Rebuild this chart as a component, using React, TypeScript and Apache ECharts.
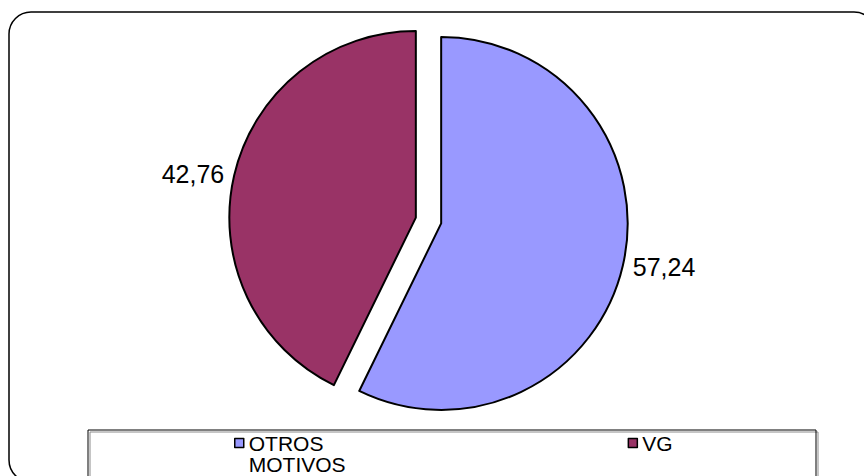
import React, { useEffect, useRef } from "react";
import * as echarts from "echarts";

const categories = ["OTROS MOTIVOS", "VG"];
const values = [57.24, 42.76];
const colors = ["#9999FF", "#993366"];

export default function App() {
  const ref = useRef<HTMLDivElement>(null);
  useEffect(() => {
    const chart = echarts.init(ref.current!, null, { renderer: "svg" });
    const L = 21;
    const iconH = 9;
    const iconTop = 438.5;
    chart.setOption({
      animation: false,
      backgroundColor: "#ffffff",
      textStyle: { fontFamily: "Liberation Sans, Arial, sans-serif" },
      graphic: [
        {
          type: "rect",
          shape: { x: 9, y: 12, width: 867, height: 470, r: 22 },
          style: { fill: "none", stroke: "#000", lineWidth: 1.5 },
          z: -1,
        },
        {
          type: "rect",
          shape: { x: 88, y: 430, width: 728, height: 70 },
          style: {
            fill: "none",
            stroke: "#000",
            lineWidth: 1,
            shadowColor: "rgba(0,0,0,0.45)",
            shadowOffsetX: 2,
            shadowOffsetY: 2,
            shadowBlur: 0,
          },
          z: -1,
        },
      ],
      legend: {
        left: 234,
        top: iconTop - (1.5 * L - iconH / 2),
        orient: "horizontal",
        itemGap: 282,
        itemWidth: iconH,
        itemHeight: iconH,
        icon: "rect",
        padding: 0,
        selectedMode: false,
        itemStyle: { borderColor: "#000", borderWidth: 1.5 },
        textStyle: { fontSize: 21, color: "#000", lineHeight: L },
        formatter: (n: string) =>
          n.indexOf(" ") >= 0 ? "\n" + n.replace(" ", "\n") : n,
        data: categories,
      },
      series: [
        {
          type: "pie",
          center: [428.5, 220.5],
          radius: 186.5,
          startAngle: 90,
          clockwise: true,
          selectedMode: "multiple",
          selectedOffset: 13,
          avoidLabelOverlap: false,
          data: categories.map((n, i) => ({
            name: n,
            value: values[i],
            selected: true,
            itemStyle: { color: colors[i] },
          })),
          itemStyle: { borderColor: "#000", borderWidth: 2 },
          label: {
            show: true,
            position: "outside",
            fontSize: 25,
            color: "#000",
            distanceToLabelLine: 5,
            formatter: (p: any) => p.value.toFixed(2).replace(".", ","),
          },
          labelLine: { show: false, length: 5, length2: 0 },
          emphasis: { disabled: true },
          select: { itemStyle: { borderColor: "#000", borderWidth: 2 } },
        },
      ],
    });
    return () => chart.dispose();
  }, []);
  return (
    <div
      ref={ref}
      style={{ position: "fixed", left: 0, top: 0, width: 864, height: 476 }}
    />
  );
}
